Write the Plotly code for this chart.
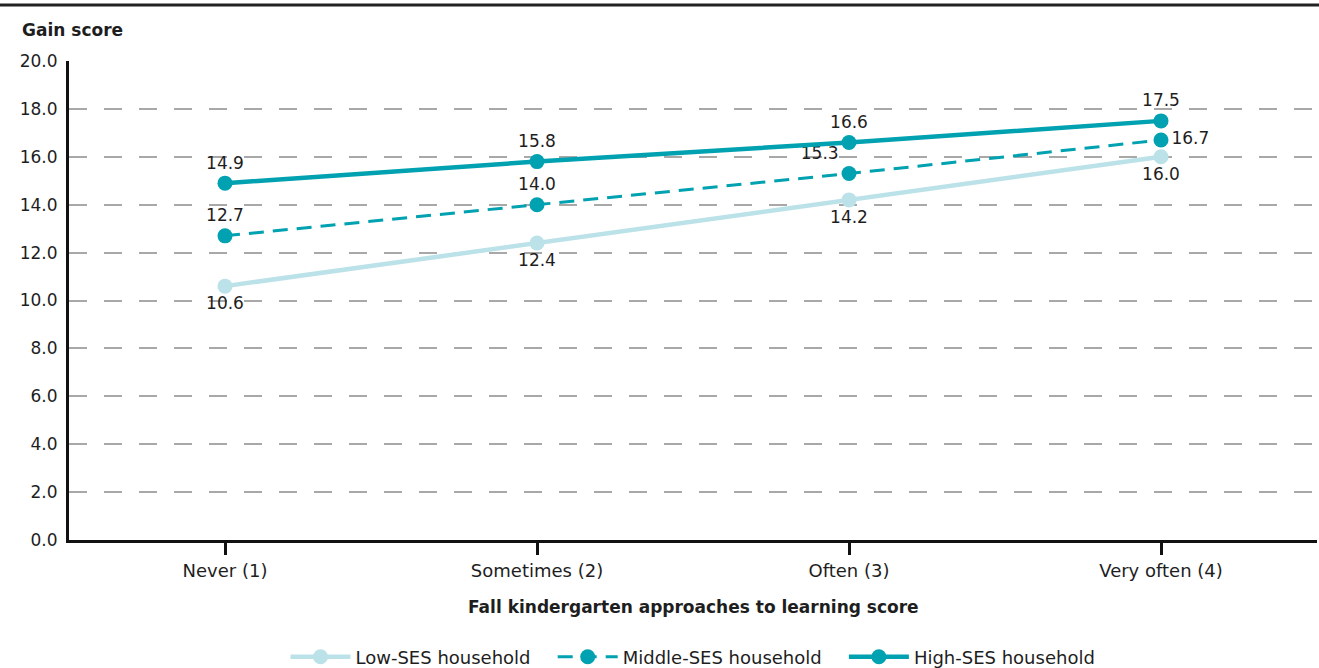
import plotly.graph_objects as go

categories = ["Never (1)", "Sometimes (2)", "Often (3)", "Very often (4)"]
low_ses = [10.6, 12.4, 14.2, 16.0]
middle_ses = [12.7, 14.0, 15.3, 16.7]
high_ses = [14.9, 15.8, 16.6, 17.5]
y_ticks = [0, 2, 4, 6, 8, 10, 12, 14, 16, 18, 20]
series_names = ["Low-SES household", "Middle-SES household", "High-SES household"]

FONT = "DejaVu Sans"
TEAL = "#00A1B0"
LIGHT = "#BBE2E8"
TXT = "#1E1E1E"
NBSP = "\u00a0"

W, H = 1319, 668
L, R, T, B = 69, 2, 61, 128
PW, PH = W - L - R, H - T - B


def px_x(x):
    return (x - L) / PW


def px_y(y):
    return (H - B - y) / PH


fig = go.Figure()
x_idx = list(range(len(categories)))

fig.add_trace(go.Scatter(
    x=x_idx, y=low_ses, name=series_names[0] + NBSP * 3, mode="lines+markers+text",
    line=dict(color=LIGHT, width=4.5), marker=dict(size=15, color=LIGHT),
    text=[f"{v:.1f}" for v in low_ses], textposition="bottom center",
    textfont=dict(size=17, color=TXT, family=FONT),
))
fig.add_trace(go.Scatter(
    x=x_idx, y=middle_ses, name=series_names[1] + NBSP * 3, mode="lines+markers+text",
    line=dict(color=TEAL, width=3, dash="15px,9px"), marker=dict(size=15, color=TEAL),
    text=[f"{v:.1f}" for v in middle_ses],
    textposition=["top center", "top center", "top left", "middle right"],
    textfont=dict(size=17, color=TXT, family=FONT),
))
fig.add_trace(go.Scatter(
    x=x_idx, y=high_ses, name=series_names[2], mode="lines+markers+text",
    line=dict(color=TEAL, width=4.5), marker=dict(size=15, color=TEAL),
    text=[f"{v:.1f}" for v in high_ses], textposition="top center",
    textfont=dict(size=17, color=TXT, family=FONT),
))

fig.update_layout(
    width=W, height=H,
    margin=dict(l=L, r=R, t=T, b=B, autoexpand=False),
    paper_bgcolor="white", plot_bgcolor="white",
    font=dict(family=FONT, size=17, color=TXT),
    showlegend=True,
    legend=dict(orientation="h", x=px_x(693), xanchor="center", y=px_y(657), yanchor="middle",
                font=dict(size=18, family=FONT, color=TXT), itemwidth=60,
                traceorder="normal", bgcolor="rgba(0,0,0,0)"),
    xaxis=dict(
        range=[-0.5, 3.5], tickmode="array", tickvals=x_idx, ticktext=categories,
        showgrid=False, zeroline=False, showline=True, linecolor="#111111", linewidth=3,
        ticks="outside", ticklen=12, tickwidth=3, tickcolor="#111111",
        tickfont=dict(size=18, family=FONT, color=TXT), automargin=False,
    ),
    yaxis=dict(
        range=[0, 20], tickmode="array", tickvals=y_ticks,
        ticktext=[f"{v:.1f}" for v in y_ticks],
        showgrid=True, gridcolor="#A8A8A8", gridwidth=2, griddash="18px,17px",
        zeroline=False, showline=True, linecolor="#111111", linewidth=3,
        ticks="", tickfont=dict(size=17, family=FONT, color=TXT), ticklabelstandoff=5,
        automargin=False,
    ),
    annotations=[
        dict(text="<b>Gain score</b>", x=px_x(20), y=px_y(30), xref="paper", yref="paper",
             showarrow=False, font=dict(size=17, family=FONT, color=TXT),
             xanchor="left", yanchor="middle"),
        dict(text="<b>Fall kindergarten approaches to learning score</b>",
             x=px_x(693), y=px_y(607), xref="paper", yref="paper",
             showarrow=False, font=dict(size=17, family=FONT, color=TXT),
             xanchor="center", yanchor="middle"),
    ],
)

fig.add_shape(type="line", xref="paper", yref="paper",
              x0=px_x(0), x1=px_x(W), y0=px_y(5), y1=px_y(5),
              line=dict(color="#222222", width=3))

fig.write_html("out.html", config={"displayModeBar": False},
               post_script="document.body.style.margin='0px';")
